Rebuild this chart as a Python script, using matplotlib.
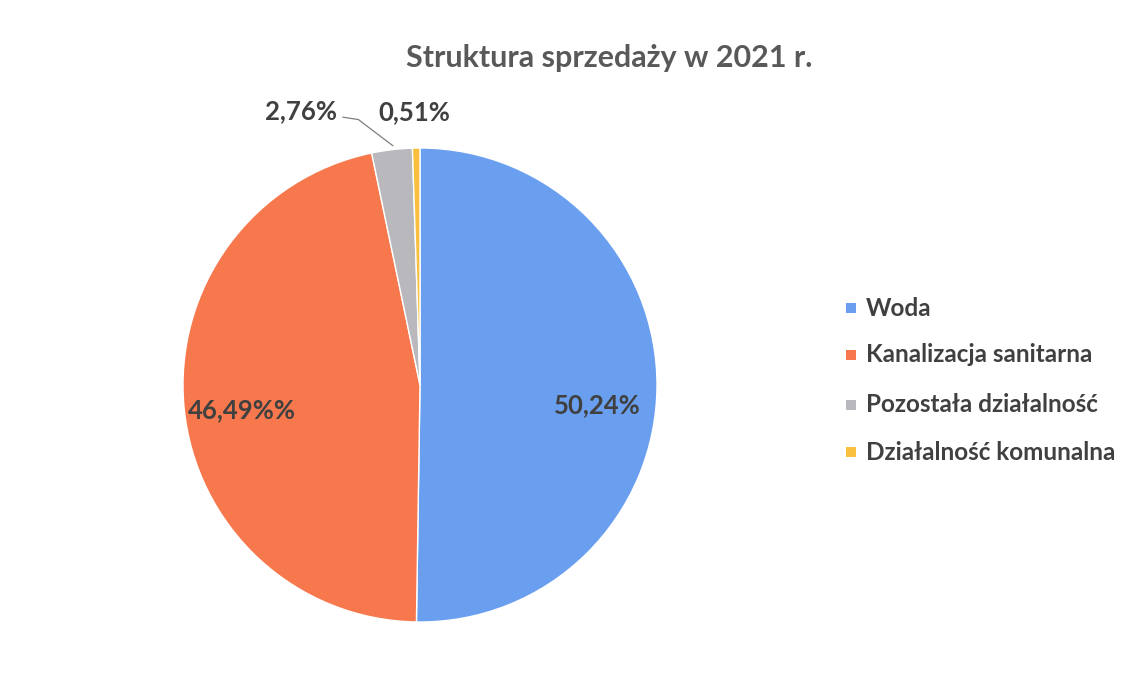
import matplotlib
matplotlib.use('Agg')
import matplotlib.pyplot as plt
from matplotlib.patches import Rectangle

plt.rcParams['font.family'] = ['Lato', 'DejaVu Sans']

# dane
categories = ['Woda', 'Kanalizacja sanitarna', 'Pozostała działalność', 'Działalność komunalna']
shares = [50.24, 46.49, 2.76, 0.51]
value_labels = ['50,24%', '46,49%%', '2,76%', '0,51%']
colors = ['#6a9ff0', '#f7784d', '#b9b9bd', '#f8c03e']

fig = plt.figure(figsize=(11.31, 6.82), dpi=100)
fig.patch.set_facecolor('white')

# oś wykresu kołowego (środek ~ (420, 385) px, promień ~237 px)
cx, cy, r = 420 / 1131, 1 - 385 / 682, 237
ax = fig.add_axes([cx - r / 1131, cy - r / 682, 2 * r / 1131, 2 * r / 682])
wedges, _ = ax.pie(shares, colors=colors, startangle=90, counterclock=False,
                   radius=1.0, wedgeprops=dict(edgecolor='white', linewidth=1.0))
ax.set_xlim(-1, 1)
ax.set_ylim(-1, 1)
ax.set_aspect('equal')
ax.axis('off')

txt_kw = dict(fontsize=18.5, fontweight='bold', color='#404040', ha='center', va='center')
# etykiety wewnątrz
ax.text(0.75, -0.085, value_labels[0], **txt_kw)
ax.text(-0.75, -0.105, value_labels[1], **txt_kw)
# etykiety na zewnątrz
ax.text(-0.5, 1.155, value_labels[2], clip_on=False, **txt_kw)
ax.text(-0.025, 1.152, value_labels[3], clip_on=False, **txt_kw)
ax.plot([-0.325, -0.26, -0.115], [1.13, 1.12, 1.01], color='#7f7f7f', lw=0.9, clip_on=False)

# tytuł
fig.text(609 / 1131, 1 - 58 / 682, 'Struktura sprzedaży w 2021 r.', fontsize=22,
         fontweight='bold', color='#595959', ha='center', va='center')

# legenda
leg_y = [308, 355, 405, 452]
for lab, col, y in zip(categories, colors, leg_y):
    fy = 1 - y / 682
    fig.patches.append(Rectangle((846 / 1131, fy - 5 / 682), 10 / 1131, 10 / 682,
                                 transform=fig.transFigure, facecolor=col,
                                 edgecolor='none'))
    fig.text(866 / 1131, fy, lab, fontsize=17.5, fontweight='bold', color='#404040',
             ha='left', va='center')

fig.savefig('out.png', dpi=100, facecolor='white')
